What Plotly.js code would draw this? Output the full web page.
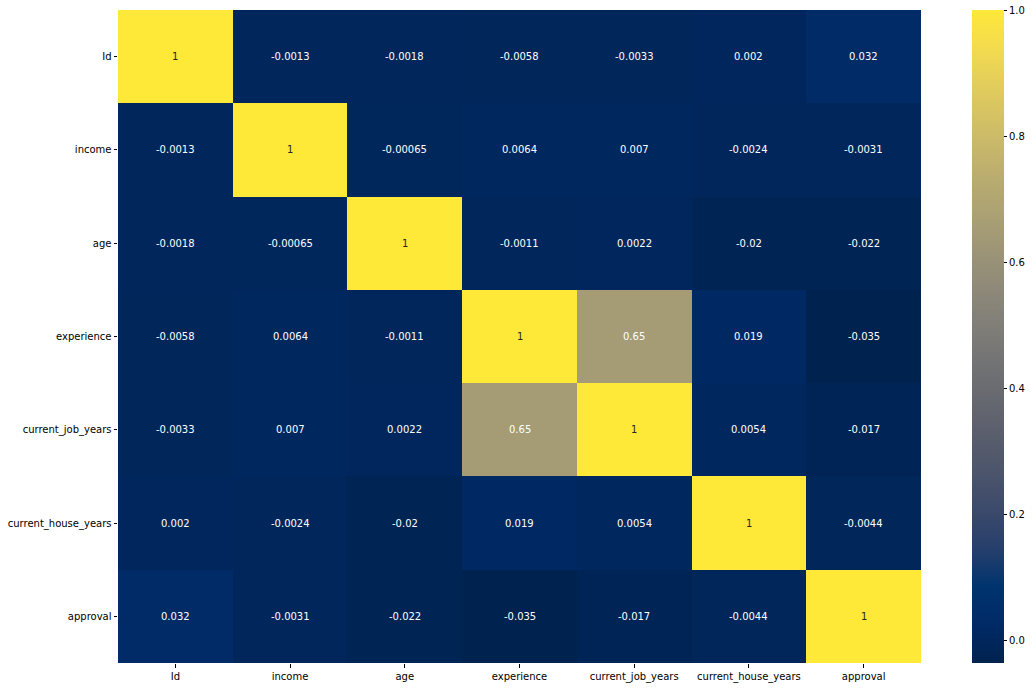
<!DOCTYPE html>
<html>
<head>
<meta charset="utf-8">
<script src="https://cdn.plot.ly/plotly-3.0.1.min.js"></script>
<style>html,body{margin:0;padding:0;background:#fff;}#chart{width:1034px;height:688px;}</style>
</head>
<body>
<div id="chart"></div>
<script>
const variables = ["Id", "income", "age", "experience", "current_job_years", "current_house_years", "approval"];

const corrId        = [1, -0.0013, -0.0018, -0.0058, -0.0033, 0.002, 0.032];
const corrIncome    = [-0.0013, 1, -0.00065, 0.0064, 0.007, -0.0024, -0.0031];
const corrAge       = [-0.0018, -0.00065, 1, -0.0011, 0.0022, -0.02, -0.022];
const corrExp       = [-0.0058, 0.0064, -0.0011, 1, 0.65, 0.019, -0.035];
const corrJobYears  = [-0.0033, 0.007, 0.0022, 0.65, 1, 0.0054, -0.017];
const corrHouseYrs  = [0.002, -0.0024, -0.02, 0.019, 0.0054, 1, -0.0044];
const corrApproval  = [0.032, -0.0031, -0.022, -0.035, -0.017, -0.0044, 1];

const colorbarTicks = [0, 0.2, 0.4, 0.6, 0.8, 1.0];

const z = [corrId, corrIncome, corrAge, corrExp, corrJobYears, corrHouseYrs, corrApproval];

const cividis = [
  [0, [0,34,78]], [0.058824, [0,42,102]], [0.117647, [0,52,110]], [0.176471, [39,63,108]],
  [0.235294, [60,74,107]], [0.294118, [76,85,107]], [0.352941, [91,95,109]], [0.411765, [104,106,112]],
  [0.470588, [117,117,117]], [0.529412, [131,129,120]], [0.588235, [146,140,120]], [0.647059, [161,152,118]],
  [0.705882, [176,165,114]], [0.764706, [192,177,109]], [0.823529, [209,191,102]], [0.882353, [225,204,92]],
  [0.941176, [243,219,79]], [1, [254,232,56]]
];
const colorscale = cividis.map(s => [s[0], 'rgb(' + s[1].join(',') + ')']);

let zmin = Infinity, zmax = -Infinity;
z.forEach(r => r.forEach(v => { zmin = Math.min(zmin, v); zmax = Math.max(zmax, v); }));

function colorAt(v) {
  const t = (v - zmin) / (zmax - zmin);
  for (let i = 1; i < cividis.length; i++) {
    if (t <= cividis[i][0]) {
      const a = cividis[i-1], b = cividis[i];
      const f = (t - a[0]) / (b[0] - a[0]);
      return a[1].map((c, k) => c + f * (b[1][k] - c));
    }
  }
  return cividis[cividis.length-1][1];
}
function lum(rgb) {
  const lin = rgb.map(c => { c /= 255; return c <= 0.03928 ? c / 12.92 : Math.pow((c + 0.055) / 1.055, 2.4); });
  return 0.2126 * lin[0] + 0.7152 * lin[1] + 0.0722 * lin[2];
}

const annotations = [];
z.forEach((row, i) => row.forEach((v, j) => {
  annotations.push({
    x: variables[j], y: variables[i], xref: 'x', yref: 'y',
    text: String(v), showarrow: false,
    font: {family: 'DejaVu Sans', size: 10, color: lum(colorAt(v)) > 0.408 ? '#262626' : '#ffffff'}
  });
}));

const trace = {
  type: 'heatmap',
  x: variables, y: variables, z: z,
  zmin: zmin, zmax: zmax,
  colorscale: colorscale,
  hoverinfo: 'skip',
  colorbar: {
    x: 1.0622, xanchor: 'left', xref: 'paper',
    y: 1, yanchor: 'top', len: 1, lenmode: 'fraction',
    thickness: 32, thicknessmode: 'pixels',
    outlinewidth: 0,
    tickvals: colorbarTicks, tickformat: '.1f',
    ticks: 'outside', ticklen: 3.5, tickwidth: 1, tickcolor: '#000',
    tickfont: {family: 'DejaVu Sans', size: 10, color: '#000'},
    xpad: 0, ypad: 0
  }
};

const layout = {
  width: 1034, height: 688,
  margin: {l: 118, r: 112, t: 10, b: 25},
  paper_bgcolor: '#fff', plot_bgcolor: '#fff',
  font: {family: 'DejaVu Sans', size: 10, color: '#000'},
  xaxis: {
    type: 'category', showgrid: false, zeroline: false, showline: false,
    ticks: 'outside', ticklen: 3.5, tickwidth: 1, tickcolor: '#000',
    tickfont: {family: 'DejaVu Sans', size: 10, color: '#000'}, tickangle: 0
  },
  yaxis: {
    type: 'category', autorange: 'reversed', showgrid: false, zeroline: false, showline: false,
    ticks: 'outside', ticklen: 3.5, tickwidth: 1, tickcolor: '#000',
    tickfont: {family: 'DejaVu Sans', size: 10, color: '#000'}
  },
  annotations: annotations
};

Plotly.newPlot('chart', [trace], layout, {displayModeBar: false, staticPlot: true});
</script>
</body>
</html>
